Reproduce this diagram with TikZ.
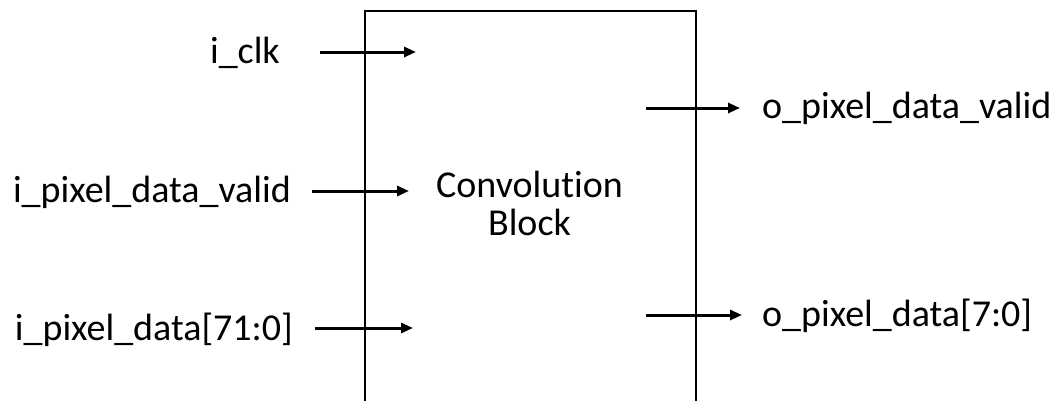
\documentclass[tikz,border=0pt]{standalone}
\usepackage{fontspec}
\setmainfont{Carlito}[Ligatures=NoCommon]
\usetikzlibrary{arrows.meta}
\tikzset{
  arr/.style={line width=3pt, -{Triangle[length=12pt,width=10pt]}},
  lbl/.style={font=\fontsize{38}{38}\selectfont, inner sep=0pt},
  blockbox/.style={draw, line width=1.6pt, anchor=north west, minimum width=331pt, minimum height=440pt, inner sep=0pt}
}
\begin{document}
\begin{tikzpicture}[x=1pt,y=-1pt]
\useasboundingbox (0,0) rectangle (1059,400);
\clip (0,0) rectangle (1059,400);
\fill[white] (0,0) rectangle (1059,400);
\node[blockbox] (blk) at (364,10) {};
\node[lbl, align=center, anchor=base] (title) at (529.5,235) {Convolution\\[0pt]Block};
% inputs
\node[lbl, anchor=base east] (clk) at (280,63) {i\_clk};
\node[lbl, anchor=base east] (vin) at (291,202) {i\_pixel\_data\_valid};
\node[lbl, anchor=base east] (din) at (293,340) {i\_pixel\_data[71:0]};
\coordinate (clkS) at (320,52); \coordinate (clkE) at (416,52);
\coordinate (vinS) at (312,191); \coordinate (vinE) at (409,191);
\coordinate (dinS) at (315,328); \coordinate (dinE) at (413,328);
\draw[arr] (clkS) -- (clkE);
\draw[arr] (vinS) -- (vinE);
\draw[arr] (dinS) -- (dinE);
% outputs
\node[lbl, anchor=base west] (vout) at (762,118) {o\_pixel\_data\_valid};
\node[lbl, anchor=base west] (dout) at (762,326) {o\_pixel\_data[7:0]};
\coordinate (voutS) at (646,108); \coordinate (voutE) at (740,108);
\coordinate (doutS) at (646,315); \coordinate (doutE) at (742,315);
\draw[arr] (voutS) -- (voutE);
\draw[arr] (doutS) -- (doutE);
\end{tikzpicture}
\end{document}
